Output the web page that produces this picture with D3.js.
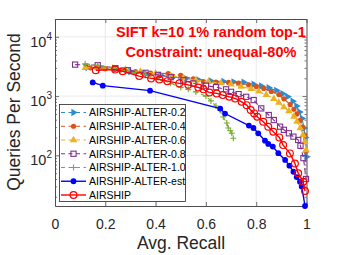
<!DOCTYPE html>
<html>
<head>
<meta charset="utf-8">
<script src="https://cdn.jsdelivr.net/npm/d3@7"></script>
<style>
    body { margin: 0; background: #fff; }
    svg { display: block; }
    text { font-family: "Liberation Sans", Arial, sans-serif; fill: #262626; }
    .title-text { font-weight: bold; fill: #ff0000; font-size: 14.5px; }
    .axis-label { font-size: 17.5px; }
    .tick-label { font-size: 14px; }
    .legend-text { font-size: 10.5px; fill: #000; }
</style>
</head>
<body>
<div id="chart"></div>
<script>
(function() {
    // series values (recall, queries per second)
    var seriesNames = ["AIRSHIP-ALTER-0.2", "AIRSHIP-ALTER-0.4", "AIRSHIP-ALTER-0.6",
        "AIRSHIP-ALTER-0.8", "AIRSHIP-ALTER-1.0", "AIRSHIP-ALTER-est", "AIRSHIP"];

    var recall02 = [0.13, 0.18, 0.24, 0.30, 0.36, 0.42, 0.47, 0.52, 0.57, 0.62, 0.67, 0.71, 0.75, 0.79, 0.82, 0.85, 0.88, 0.905, 0.925, 0.945, 0.96, 0.972, 0.982, 0.99, 0.995, 1.0];
    var qps02 = [3050, 2950, 2800, 2600, 2400, 2250, 2100, 1980, 1880, 1800, 1760, 1740, 1720, 1580, 1480, 1380, 1250, 1100, 980, 820, 680, 540, 420, 290, 200, 95];

    var recall04 = [0.14, 0.2, 0.26, 0.32, 0.38, 0.45, 0.50, 0.55, 0.59, 0.64, 0.69, 0.73, 0.77, 0.80, 0.83, 0.86, 0.89, 0.91, 0.935, 0.95, 0.962, 0.975, 0.985, 0.993, 0.998];
    var qps04 = [3000, 2900, 2750, 2600, 2450, 2400, 2250, 1950, 1750, 1720, 1700, 1650, 1550, 1450, 1350, 1200, 1060, 900, 720, 600, 500, 390, 300, 220, 116];

    var recall06 = [0.12, 0.17, 0.23, 0.28, 0.34, 0.40, 0.46, 0.51, 0.56, 0.61, 0.66, 0.70, 0.74, 0.78, 0.81, 0.84, 0.87, 0.89, 0.91, 0.93, 0.95, 0.962, 0.975, 0.986, 0.993, 0.998];
    var qps06 = [2990, 3000, 2950, 2800, 2600, 2400, 2200, 2000, 1850, 1750, 1650, 1580, 1450, 1330, 1200, 1050, 900, 780, 650, 560, 450, 370, 290, 220, 170, 123];

    var recall08 = [0.08, 0.17, 0.24, 0.29, 0.36, 0.41, 0.46, 0.51, 0.55, 0.60, 0.64, 0.68, 0.70, 0.73, 0.76, 0.79, 0.82, 0.85, 0.87, 0.895, 0.91, 0.93, 0.948, 0.967, 0.976, 0.988, 0.998];
    var qps08 = [3400, 3320, 2960, 2735, 2470, 2280, 2085, 1850, 1635, 1500, 1416, 1300, 1181, 1080, 973, 857, 621, 480, 395, 305, 270, 236, 207, 182, 145, 90, 40];

    var recall10 = [0.12, 0.17, 0.24, 0.28, 0.32, 0.36, 0.40, 0.43, 0.46, 0.50, 0.53, 0.56, 0.60, 0.62, 0.64, 0.656, 0.669, 0.683, 0.689, 0.697, 0.703, 0.709];
    var qps10 = [3500, 3320, 2960, 2700, 2440, 2250, 2010, 1850, 1650, 1400, 1300, 1170, 1000, 830, 680, 580, 444, 352, 290, 260, 236, 195];

    var recallEst = [0.15, 0.19, 0.378, 0.657, 0.676, 0.771, 0.789, 0.808, 0.835, 0.848, 0.866, 0.888, 0.915, 0.932, 0.948, 0.961, 0.974, 0.981, 0.994];
    var qpsEst = [1700, 1500, 1237, 617, 508, 319, 290, 236, 177, 156, 141, 109, 84, 67, 53, 43, 36, 30, 14];

    var recallAirship = [0.162, 0.239, 0.269, 0.335, 0.382, 0.415, 0.447, 0.494, 0.530, 0.570, 0.590, 0.614, 0.643, 0.667, 0.693, 0.716, 0.742, 0.762, 0.778, 0.792, 0.804, 0.828, 0.848, 0.868, 0.892, 0.907, 0.934, 0.954, 0.967, 0.987, 0.994];
    var qpsAirship = [2735, 2800, 2630, 2175, 1990, 1910, 1790, 1640, 1550, 1400, 1300, 1150, 1110, 1040, 973, 914, 800, 704, 581, 511, 448, 369, 304, 250, 201, 149, 108, 73, 50, 36, 25];

    var xTicks = [0, 0.2, 0.4, 0.6, 0.8, 1];
    var xTickLabels = ["0", "0.2", "0.4", "0.6", "0.8", "1"];
    var yTicks = [100, 1000, 10000];
    var yTickExponents = ["2", "3", "4"];
    var titleLines = ["SIFT k=10 1% random top-1", "Constraint: unequal-80%"];

    var width = 339;
    var height = 255;
    var plotLeft = 55;
    var plotRight = 306.5;
    var plotTop = 19;
    var plotBottom = 206;

    var x = d3.scaleLinear().domain([0, 1]).range([plotLeft, plotRight]);
    var y = d3.scaleLog().domain([14, 20000]).range([plotBottom, plotTop]);

    var styles = [
        { color: "#2a8cd3", dash: "5,3", marker: "triRight" },
        { color: "#d95319", dash: "5,3", marker: "dot" },
        { color: "#edb120", dash: "5,3", marker: "triUp" },
        { color: "#7e2f8e", dash: "5,3", marker: "square" },
        { color: "#77ac30", dash: "5,3", marker: "plus" },
        { color: "#0000ff", dash: null, marker: "bigDot" },
        { color: "#ff0000", dash: null, marker: "ring" }
    ];

    var series = [
        [recall02, qps02], [recall04, qps04], [recall06, qps06], [recall08, qps08],
        [recall10, qps10], [recallEst, qpsEst], [recallAirship, qpsAirship]
    ].map(function(s, i) {
        return {
            name: seriesNames[i],
            style: styles[i],
            points: s[0].map(function(r, j) { return { r: r, q: s[1][j] }; })
        };
    });

    var svg = d3.select("#chart").append("svg")
        .attr("width", width)
        .attr("height", height);

    // grid
    var grid = svg.append("g").attr("class", "grid");
    grid.selectAll(".vgrid")
        .data(xTicks.slice(1, -1)).enter()
        .append("line")
        .attr("x1", function(d) { return x(d); })
        .attr("x2", function(d) { return x(d); })
        .attr("y1", plotTop)
        .attr("y2", plotBottom)
        .attr("stroke", "#e3e3e3")
        .attr("stroke-width", 0.8);
    grid.selectAll(".hgrid")
        .data(yTicks).enter()
        .append("line")
        .attr("x1", plotLeft)
        .attr("x2", plotRight)
        .attr("y1", function(d) { return y(d); })
        .attr("y2", function(d) { return y(d); })
        .attr("stroke", "#e3e3e3")
        .attr("stroke-width", 0.8);

    // axes, ticks inward, box on all sides
    var minorTicks = [];
    [10, 100, 1000, 10000].forEach(function(base) {
        for (var k = 2; k <= 9; k++) {
            var v = base * k;
            if (v >= 14 && v <= 20000) minorTicks.push(v);
        }
    });

    function styleAxis(g) {
        g.select(".domain").attr("stroke", "#4d4d4d").attr("stroke-width", 1);
        g.selectAll(".tick line").attr("stroke", "#4d4d4d").attr("stroke-width", 0.8);
    }

    svg.append("g")
        .attr("transform", "translate(0," + plotBottom + ")")
        .call(d3.axisBottom(x).tickValues(xTicks).tickSize(-4).tickSizeOuter(0).tickPadding(13)
            .tickFormat(function(d, i) { return xTickLabels[i]; }))
        .call(styleAxis)
        .call(function(g) {
            g.selectAll(".tick text").attr("class", "tick-label").attr("fill", "#262626")
                .style("font-size", "14px").style("font-family", null);
        });

    svg.append("g")
        .attr("transform", "translate(0," + plotTop + ")")
        .call(d3.axisTop(x).tickValues(xTicks).tickSize(-4).tickSizeOuter(0).tickFormat(""))
        .call(styleAxis);

    var leftAxis = svg.append("g")
        .attr("transform", "translate(" + plotLeft + ",0)")
        .call(d3.axisLeft(y).tickValues(yTicks).tickSize(-4).tickSizeOuter(0).tickFormat(""))
        .call(styleAxis);

    svg.append("g")
        .attr("transform", "translate(" + plotLeft + ",0)")
        .call(d3.axisLeft(y).tickValues(minorTicks).tickSize(-2).tickSizeOuter(0).tickFormat(""))
        .call(styleAxis)
        .call(function(g) { g.select(".domain").remove(); });

    svg.append("g")
        .attr("transform", "translate(" + plotRight + ",0)")
        .call(d3.axisRight(y).tickValues(yTicks).tickSize(-4).tickSizeOuter(0).tickFormat(""))
        .call(styleAxis);

    svg.append("g")
        .attr("transform", "translate(" + plotRight + ",0)")
        .call(d3.axisRight(y).tickValues(minorTicks).tickSize(-2).tickSizeOuter(0).tickFormat(""))
        .call(styleAxis)
        .call(function(g) { g.select(".domain").remove(); });

    // y tick labels with superscript exponents
    var yLabels = svg.append("g").selectAll(".ylab")
        .data(yTicks).enter()
        .append("text")
        .attr("class", "tick-label")
        .attr("text-anchor", "end")
        .attr("x", plotLeft - 3)
        .attr("y", function(d) { return y(d) + 10; });
    yLabels.append("tspan")
        .style("font-size", "14.5px")
        .text("10");
    yLabels.append("tspan")
        .style("font-size", "10px")
        .attr("dy", -7)
        .text(function(d, i) { return yTickExponents[i]; });

    // series lines
    var line = d3.line()
        .x(function(d) { return x(d.r); })
        .y(function(d) { return y(d.q); });

    function drawMarker(sel, style) {
        var m = style.marker;
        var c = style.color;
        if (m === "triRight" || m === "triUp") {
            sel.append("path")
                .attr("d", d3.symbol().type(d3.symbolTriangle).size(24)())
                .attr("transform", m === "triRight" ? "rotate(90)" : null)
                .attr("fill", c);
        } else if (m === "dot") {
            sel.append("circle").attr("r", 2.6).attr("fill", c);
        } else if (m === "bigDot") {
            sel.append("circle").attr("r", 2.9).attr("fill", c);
        } else if (m === "ring") {
            sel.append("circle").attr("r", 3.4).attr("fill", "none")
                .attr("stroke", c).attr("stroke-width", 1.2);
        } else if (m === "square") {
            sel.append("rect").attr("x", -2.6).attr("y", -2.6)
                .attr("width", 5.2).attr("height", 5.2)
                .attr("fill", "none").attr("stroke", c).attr("stroke-width", 1.1);
        } else if (m === "plus") {
            sel.append("path").attr("d", "M-3,0H3M0,-3V3")
                .attr("stroke", c).attr("stroke-width", 1.1);
        }
    }

    var seriesGroups = svg.append("g").selectAll(".series")
        .data(series).enter()
        .append("g")
        .attr("class", "series");

    seriesGroups.append("path")
        .attr("d", function(d) { return line(d.points); })
        .attr("fill", "none")
        .attr("stroke", function(d) { return d.style.color; })
        .attr("stroke-width", function(d) { return d.style.dash ? 1.1 : 1.4; })
        .attr("stroke-dasharray", function(d) { return d.style.dash; });

    seriesGroups.each(function(s) {
        d3.select(this).selectAll(".mark")
            .data(s.points).enter()
            .append("g")
            .attr("class", "mark")
            .attr("transform", function(d) { return "translate(" + x(d.r) + "," + y(d.q) + ")"; })
            .each(function() { drawMarker(d3.select(this), s.style); });
    });

    // title
    svg.append("g").selectAll(".title-text")
        .data(titleLines).enter()
        .append("text")
        .attr("class", "title-text")
        .attr("text-anchor", "middle")
        .attr("x", 211)
        .attr("y", function(d, i) { return 37 + i * 20; })
        .text(function(d) { return d; });

    // axis labels
    svg.append("text")
        .attr("class", "axis-label")
        .attr("text-anchor", "middle")
        .attr("x", 181)
        .attr("y", 249)
        .text("Avg. Recall");

    svg.append("text")
        .attr("class", "axis-label")
        .attr("text-anchor", "middle")
        .attr("transform", "translate(19.5,112) rotate(-90)")
        .text("Queries Per Second");

    // legend
    var legend = svg.append("g").attr("class", "legend");
    legend.append("rect")
        .attr("x", 59.5)
        .attr("y", 104.5)
        .attr("width", 126)
        .attr("height", 97)
        .attr("fill", "#fff")
        .attr("stroke", "#262626")
        .attr("stroke-width", 0.8);

    var rows = legend.selectAll(".row")
        .data(series).enter()
        .append("g")
        .attr("class", "row")
        .attr("transform", function(d, i) { return "translate(0," + (112.5 + i * 13.75) + ")"; });

    rows.append("line")
        .attr("x1", 61)
        .attr("x2", 86)
        .attr("stroke", function(d) { return d.style.color; })
        .attr("stroke-width", function(d) { return d.style.dash ? 1.1 : 1.4; })
        .attr("stroke-dasharray", function(d) { return d.style.dash ? "4,3.5" : null; });

    rows.each(function(s) {
        var g = d3.select(this).append("g").attr("transform", "translate(73.5,0)");
        drawMarker(g, s.style);
    });

    rows.append("text")
        .attr("class", "legend-text")
        .attr("x", 89)
        .attr("y", 3.8)
        .text(function(d) { return d.name; });
})();
</script>
</body>
</html>
